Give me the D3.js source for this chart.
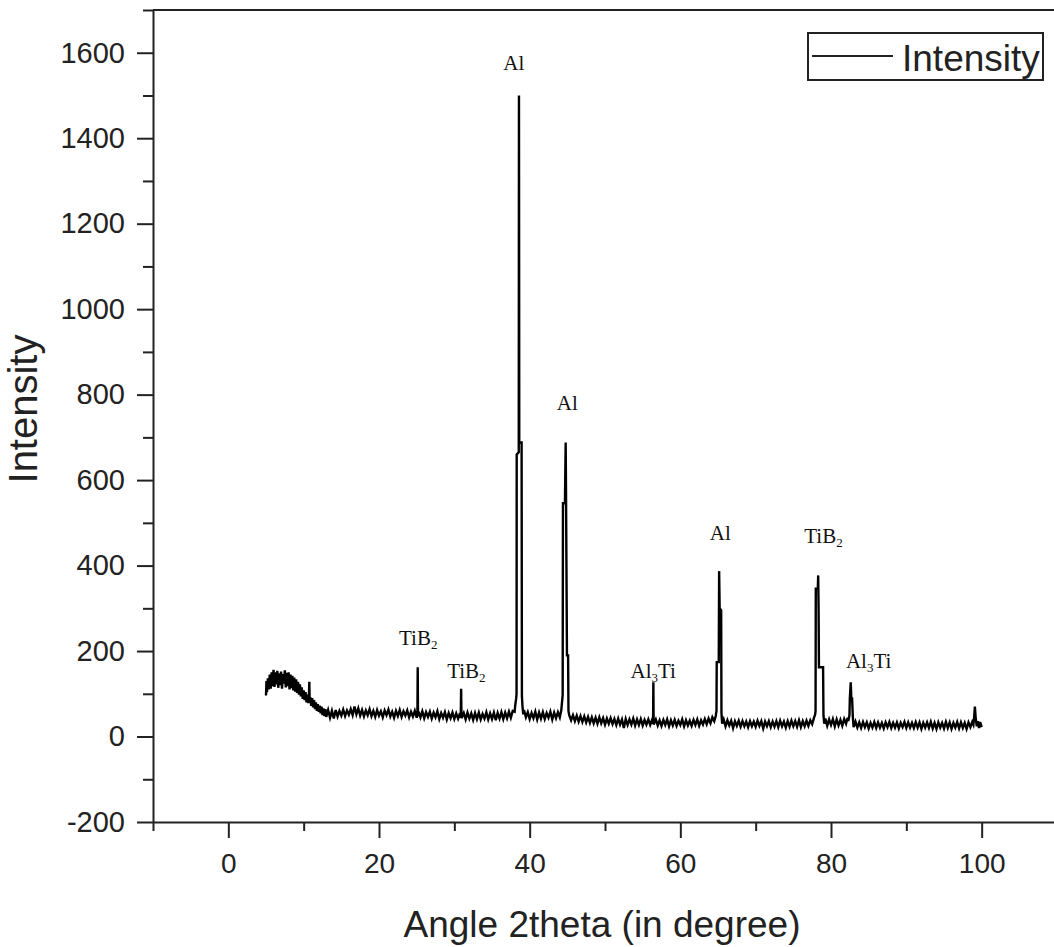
<!DOCTYPE html>
<html>
<head>
<meta charset="utf-8">
<script src="https://d3js.org/d3.v7.min.js"></script>
<style>
  body { margin: 0; background: #fff; }
  .tick text { fill: #222; }
</style>
</head>
<body>
<div id="my_dataviz"></div>
<script>

// XRD scan: [angle 2theta, intensity]
var scan = [
  [5.0, 96], [5.06, 130], [5.125, 104], [5.25, 136], [5.375, 110], [5.5, 145], [5.625, 112],
  [5.75, 150], [5.875, 118], [6.0, 156], [6.125, 116], [6.25, 150], [6.375, 122], [6.5, 154],
  [6.625, 114], [6.75, 148], [6.875, 120], [7.0, 152], [7.125, 112], [7.25, 146], [7.375, 124],
  [7.5, 155], [7.625, 115], [7.75, 149], [7.875, 118], [8.0, 150], [8.125, 110], [8.25, 145],
  [8.375, 113], [8.5, 142], [8.625, 108], [8.75, 138], [8.875, 105], [9.0, 134], [9.125, 102],
  [9.25, 128], [9.375, 98], [9.5, 122], [9.625, 94], [9.75, 115], [9.875, 88], [10.0, 108],
  [10.125, 85], [10.25, 104], [10.375, 80], [10.5, 98], [10.625, 78], [10.7, 95], [10.75, 128],
  [10.8, 80], [10.875, 92], [11.0, 72], [11.125, 90], [11.25, 68], [11.375, 85], [11.5, 64],
  [11.625, 80], [11.75, 60], [11.875, 76], [12.0, 58], [12.125, 72], [12.25, 54], [12.375, 70],
  [12.5, 50], [12.625, 66], [12.75, 48], [12.875, 64], [13.0, 46], [13.25, 62], [13.5, 44],
  [13.75, 60], [14.0, 42],
  [14.25, 62], [14.5, 47], [14.75, 60], [15.0, 49], [15.25, 63], [15.5, 48], [15.75, 61],
  [16.0, 51], [16.25, 64], [16.5, 50], [16.75, 70], [17.0, 52], [17.25, 66], [17.5, 49],
  [17.75, 62], [18.0, 47], [18.25, 61], [18.5, 50], [18.75, 64], [19.0, 48], [19.25, 60],
  [19.5, 46], [19.75, 62], [20.0, 49], [20.25, 59], [20.5, 45], [20.75, 61], [21.0, 50],
  [21.25, 63], [21.5, 47], [21.75, 58], [22.0, 44], [22.25, 60], [22.5, 48], [22.75, 62],
  [23.0, 46], [23.25, 59], [23.5, 49], [23.75, 61], [24.0, 45], [24.25, 58], [24.5, 47],
  [24.75, 60], [25.0, 44], [25.1, 55], [25.14, 162], [25.18, 47], [25.25, 58], [25.5, 45],
  [25.75, 59], [26.0, 43], [26.25, 57], [26.5, 46], [26.75, 58], [27.0, 42], [27.25, 56],
  [27.5, 45], [27.75, 59], [28.0, 41], [28.25, 55], [28.5, 44], [28.75, 57], [29.0, 40],
  [29.25, 55], [29.5, 43], [29.75, 56], [30.0, 41], [30.25, 54], [30.5, 42], [30.75, 55],
  [30.85, 44], [30.9, 112], [30.95, 43], [31.25, 55], [31.5, 40], [31.75, 56], [32.0, 42],
  [32.25, 54], [32.5, 39], [32.75, 55], [33.0, 41], [33.25, 56], [33.5, 40], [33.75, 53],
  [34.0, 42], [34.25, 57], [34.5, 40], [34.75, 54], [35.0, 41], [35.25, 56], [35.5, 38],
  [35.75, 55], [36.0, 42], [36.25, 57], [36.5, 41], [36.75, 56], [37.0, 43], [37.25, 58],
  [37.5, 44], [37.75, 60], [38.0, 58], [38.1, 75], [38.2, 88], [38.26, 100], [38.28, 660],
  [38.55, 665], [38.58, 1500], [38.62, 688], [38.93, 688], [38.97, 95], [39.05, 70],
  [39.15, 52], [39.25, 62], [39.5, 45], [39.75, 57], [40.0, 41], [40.25, 55], [40.5, 43],
  [40.75, 58], [41.0, 40], [41.25, 56], [41.5, 42], [41.75, 57], [42.0, 41], [42.25, 55],
  [42.5, 44], [42.75, 58], [43.0, 40], [43.25, 56], [43.5, 43], [43.75, 57], [44.0, 45],
  [44.2, 62], [44.38, 97], [44.42, 546], [44.68, 546], [44.78, 688], [44.83, 560],
  [44.95, 190], [45.1, 190], [45.15, 60], [45.25, 50], [45.5, 38], [45.75, 50], [46.0, 36],
  [46.25, 49], [46.5, 35], [46.75, 48], [47.0, 34], [47.25, 47], [47.5, 33], [47.75, 46],
  [48.0, 32], [48.25, 45], [48.5, 31], [48.75, 44], [49.0, 30], [49.25, 45], [49.5, 31],
  [49.75, 43], [50.0, 28], [50.25, 42], [50.5, 30], [50.75, 43], [51.0, 29], [51.25, 41],
  [51.5, 27], [51.75, 42], [52.0, 28], [52.25, 40], [52.5, 20], [52.75, 41], [53.0, 27],
  [53.25, 40], [53.5, 28], [53.75, 42], [54.0, 26], [54.25, 40], [54.5, 27], [54.75, 41],
  [55.0, 26], [55.25, 39], [55.5, 28], [55.75, 40], [56.0, 27], [56.25, 39], [56.38, 30],
  [56.42, 127], [56.46, 28], [56.75, 40], [57.0, 26], [57.25, 38], [57.5, 25], [57.75, 39],
  [58.0, 27], [58.25, 40], [58.5, 24], [58.75, 38], [59.0, 26], [59.25, 39], [59.5, 25],
  [59.75, 37], [60.0, 27], [60.25, 40], [60.5, 24], [60.75, 38], [61.0, 26], [61.25, 37],
  [61.5, 25], [61.75, 39], [62.0, 27], [62.25, 40], [62.5, 25], [62.75, 38], [63.0, 28],
  [63.25, 41], [63.5, 29], [63.75, 42], [64.0, 31], [64.25, 45], [64.5, 36], [64.7, 48],
  [64.8, 60], [64.83, 174], [65.1, 174], [65.15, 387], [65.22, 300], [65.42, 295],
  [65.46, 55], [65.55, 30], [65.75, 40], [66.0, 24], [66.25, 38], [66.5, 26], [66.75, 37],
  [67.0, 20], [67.25, 36], [67.5, 25], [67.75, 37], [68.0, 23], [68.25, 36], [68.5, 24],
  [68.75, 35], [69.0, 22], [69.25, 36], [69.5, 24], [69.75, 35], [70.0, 23], [70.25, 37],
  [70.5, 25], [70.75, 36], [71.0, 19], [71.25, 35], [71.5, 24], [71.75, 36], [72.0, 22],
  [72.25, 35], [72.5, 23], [72.75, 36], [73.0, 22], [73.25, 37], [73.5, 24], [73.75, 35],
  [74.0, 21], [74.25, 36], [74.5, 23], [74.75, 37], [75.0, 24], [75.25, 36], [75.5, 23],
  [75.75, 38], [76.0, 22], [76.25, 36], [76.5, 24], [76.75, 37], [77.0, 25], [77.25, 38],
  [77.5, 29], [77.75, 44], [77.9, 52], [77.95, 60], [77.98, 346], [78.25, 346], [78.3, 377],
  [78.35, 300], [78.4, 162], [78.95, 162], [79.0, 50], [79.1, 30], [79.25, 42], [79.5, 25],
  [79.75, 40], [80.0, 27], [80.25, 41], [80.5, 24], [80.75, 40], [81.0, 26], [81.25, 39],
  [81.5, 25], [81.75, 41], [82.0, 30], [82.2, 44], [82.3, 36], [82.45, 50], [82.5, 89],
  [82.62, 127], [82.7, 89], [82.8, 89], [82.9, 45], [83.0, 22], [83.25, 35], [83.5, 21],
  [83.75, 33], [84.0, 20], [84.25, 34], [84.5, 22], [84.75, 33], [85.0, 19], [85.25, 32],
  [85.5, 21], [85.75, 34], [86.0, 20], [86.25, 33], [86.5, 21], [86.75, 32], [87.0, 19],
  [87.25, 33], [87.5, 22], [87.75, 34], [88.0, 20], [88.25, 32], [88.5, 21], [88.75, 33],
  [89.0, 19], [89.25, 32], [89.5, 22], [89.75, 34], [90.0, 20], [90.25, 33], [90.5, 21],
  [90.75, 32], [91.0, 20], [91.25, 34], [91.5, 21], [91.75, 33], [92.0, 18], [92.25, 32],
  [92.5, 21], [92.75, 33], [93.0, 20], [93.25, 34], [93.5, 19], [93.75, 32], [94.0, 18],
  [94.25, 33], [94.5, 21], [94.75, 32], [95.0, 19], [95.25, 34], [95.5, 20], [95.75, 33],
  [96.0, 18], [96.25, 32], [96.5, 21], [96.75, 34], [97.0, 19], [97.25, 33], [97.5, 20],
  [97.75, 32], [98.0, 18], [98.25, 33], [98.5, 22], [98.75, 34], [98.9, 28], [99.0, 45],
  [99.1, 70], [99.2, 45], [99.35, 24], [99.5, 36], [99.65, 20], [99.8, 34], [100.0, 22]
];

// phase labels ("_" marks the subscript digit)
var labelText = ["Al", "Al", "TiB_2", "TiB_2", "Al_3Ti", "Al", "TiB_2", "Al_3Ti"];
var labelAngle = [37.9, 45.0, 25.2, 31.6, 56.4, 65.3, 79.0, 85.0];
var labelIntensity = [1560, 765, 215, 137, 137, 460, 453, 160];

var xTicks = [0, 20, 40, 60, 80, 100];
var xMinor = [-10, 10, 30, 50, 70, 90, 110];
var yTicks = [-200, 0, 200, 400, 600, 800, 1000, 1200, 1400, 1600];
var yMinor = [-100, 100, 300, 500, 700, 900, 1100, 1300, 1500, 1700];

var width = 1054, height = 947;

var svg = d3.select("#my_dataviz")
  .append("svg")
    .attr("width", width)
    .attr("height", height);

var x = d3.scaleLinear().domain([-10, 110]).range([153, 1057]);
var y = d3.scaleLinear().domain([-200, 1700]).range([822, 10]);

var sans = "'Liberation Sans', Arial, sans-serif";
var serif = "'Liberation Serif', 'Times New Roman', serif";
var plain = function(d) { return String(d); };

// top frame line
svg.append("line")
  .attr("x1", x(-10)).attr("x2", x(110))
  .attr("y1", y(1700)).attr("y2", y(1700))
  .attr("stroke", "#222")
  .attr("stroke-width", 2);

// X axis
svg.append("g")
  .attr("transform", "translate(0," + y(-200) + ")")
  .call(d3.axisBottom(x).tickValues(xMinor).tickSize(9).tickSizeOuter(0).tickFormat(""))
  .call(function(g) { g.select(".domain").remove(); });
var gx = svg.append("g")
  .attr("transform", "translate(0," + y(-200) + ")")
  .call(d3.axisBottom(x).tickValues(xTicks).tickSize(16).tickSizeOuter(0)
    .tickPadding(15).tickFormat(plain));
gx.selectAll("text").style("font-family", sans).style("font-size", "28px");

// Y axis
svg.append("g")
  .attr("transform", "translate(" + x(-10) + ",0)")
  .call(d3.axisLeft(y).tickValues(yMinor).tickSize(10).tickSizeOuter(0).tickFormat(""))
  .call(function(g) { g.select(".domain").remove(); });
var gy = svg.append("g")
  .attr("transform", "translate(" + x(-10) + ",0)")
  .call(d3.axisLeft(y).tickValues(yTicks).tickSize(16).tickSizeOuter(0)
    .tickPadding(12).tickFormat(plain));
gy.selectAll("text").style("font-family", sans).style("font-size", "29px");

svg.selectAll(".domain, .tick line")
  .attr("stroke", "#222")
  .attr("stroke-width", 2);

// the scan
svg.append("path")
  .datum(scan)
  .attr("fill", "none")
  .attr("stroke", "#000")
  .attr("stroke-width", 2.4)
  .attr("d", d3.line()
    .x(function(d) { return x(d[0]); })
    .y(function(d) { return y(d[1]); }));

// phase labels
labelText.forEach(function(t, i) {
  var parts = t.split("_");
  var txt = svg.append("text")
    .attr("x", x(labelAngle[i]))
    .attr("y", y(labelIntensity[i]))
    .attr("text-anchor", "middle")
    .style("font-family", serif)
    .style("font-size", "21px")
    .attr("fill", "#111");
  txt.append("tspan").text(parts[0]);
  if (parts.length > 1) {
    txt.append("tspan").attr("dy", 4).style("font-size", "13px").text(parts[1].charAt(0));
    if (parts[1].length > 1) {
      txt.append("tspan").attr("dy", -4).text(parts[1].slice(1));
    }
  }
});

// axis titles
svg.append("text")
  .attr("x", (x(-10) + x(110)) / 2 - 3)
  .attr("y", 937)
  .attr("text-anchor", "middle")
  .style("font-family", sans)
  .style("font-size", "37px")
  .attr("fill", "#222")
  .text("Angle 2theta (in degree)");

svg.append("text")
  .attr("transform", "translate(37,409)rotate(-90)")
  .attr("text-anchor", "middle")
  .style("font-family", sans)
  .style("font-size", "40px")
  .attr("fill", "#222")
  .text("Intensity");

// legend
var legend = svg.append("g");
legend.append("rect")
  .attr("x", 808).attr("y", 33)
  .attr("width", 235).attr("height", 47)
  .attr("fill", "#fff")
  .attr("stroke", "#222")
  .attr("stroke-width", 2);
legend.append("line")
  .attr("x1", 812).attr("x2", 893)
  .attr("y1", 56).attr("y2", 56)
  .attr("stroke", "#222")
  .attr("stroke-width", 2);
legend.append("text")
  .attr("x", 902).attr("y", 71)
  .style("font-family", sans)
  .style("font-size", "37px")
  .attr("fill", "#222")
  .text("Intensity");

</script>
</body>
</html>
